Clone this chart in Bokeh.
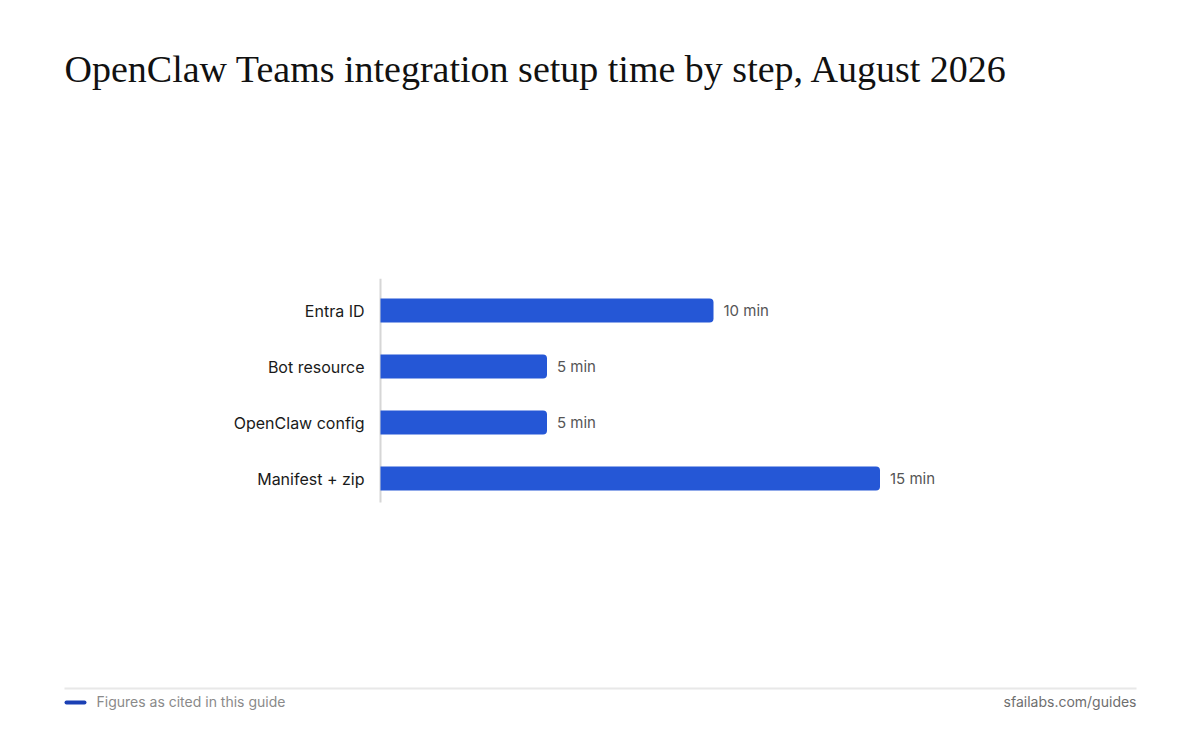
from bokeh.plotting import figure
from bokeh.layouts import column
from bokeh.models import ColumnDataSource, FactorRange, Range1d
from bokeh.core.properties import value
from bokeh.embed import file_html
from bokeh.resources import INLINE

steps = ["Entra ID", "Bot resource", "OpenClaw config", "Manifest + zip"]
minutes = [10, 5, 5, 15]
value_labels = ["10 min", "5 min", "5 min", "15 min"]
title_text = "OpenClaw Teams integration setup time by step, August 2026"
note_text = "Figures as cited in this guide"
source_text = "sfailabs.com/guides"

W = 1200
BAR = "#2557d6"
AXIS_X = 380          # pixel position of the value axis origin
PX_PER_MIN = 33.3
ROW_PX = 56
PAD = 4 / ROW_PX      # factor padding (in rows)


def strip(height, **kw):
    f = figure(width=W, height=height, output_backend="svg", toolbar_location=None,
               min_border=0, min_border_left=0, min_border_right=0,
               min_border_top=0, min_border_bottom=0, **kw)
    f.axis.visible = False
    f.grid.visible = False
    f.outline_line_color = None
    f.background_fill_color = "white"
    f.border_fill_color = "white"
    return f


# ---- title strip (page y 0..278) ----
TH = 278
t = strip(TH, x_range=Range1d(0, W), y_range=Range1d(TH, 0))
t.text(x=[64], y=[68], text=[title_text], text_baseline="alphabetic",
       text_font=value("Liberation Serif"), text_font_size="38px", text_color="#111111")

# ---- chart strip (page y 278..510) ----
MH = len(steps) * ROW_PX + 8
src = ColumnDataSource(dict(step=steps, minutes=minutes, label=value_labels,
                            origin=[0] * len(steps)))
p = strip(MH,
          x_range=Range1d(-AXIS_X / PX_PER_MIN, (W - AXIS_X) / PX_PER_MIN),
          y_range=FactorRange(factors=list(reversed(steps)), range_padding=PAD,
                              range_padding_units="absolute"))
# value-axis spine (shifted up by the padding, as in the reference)
p.segment(x0=[0], x1=[0], y0=[PAD], y1=[len(steps) + PAD],
          line_color="#d6d6d6", line_width=2)
p.hbar(y="step", left=0, right="minutes", height=0.43, source=src,
       fill_color=BAR, line_color=None, border_radius=(0, 4, 4, 0))
p.text(x="origin", y="step", text="step", source=src, x_offset=-16,
       text_baseline="middle", text_align="right",
       text_font=value("Inter"), text_font_size="16px", text_color="#1a1a1a")
p.text(x="minutes", y="step", text="label", source=src, x_offset=10,
       text_baseline="middle", text_align="left",
       text_font=value("Inter"), text_font_size="15px", text_color="#555555")

# ---- footer strip (page y 510..747) ----
BH = 747 - TH - MH
b = strip(BH, x_range=Range1d(0, W), y_range=Range1d(BH, 0))
b.segment(x0=[64], x1=[1136], y0=[178], y1=[178], line_color="#e8e8e8", line_width=2)
b.segment(x0=[66], x1=[84], y0=[192], y1=[192], line_color="#1b40b4",
          line_width=4, line_cap="round")
b.text(x=[96], y=[191], text=[note_text], text_baseline="middle",
       text_font=value("Inter"), text_font_size="14px", text_color="#8a8a8a")
b.text(x=[1136], y=[191], text=[source_text], text_baseline="middle", text_align="right",
       text_font=value("Inter"), text_font_size="14px", text_color="#6e6e6e")

page = column(t, p, b, spacing=0)
open("out.html", "w").write(file_html(page, INLINE))
